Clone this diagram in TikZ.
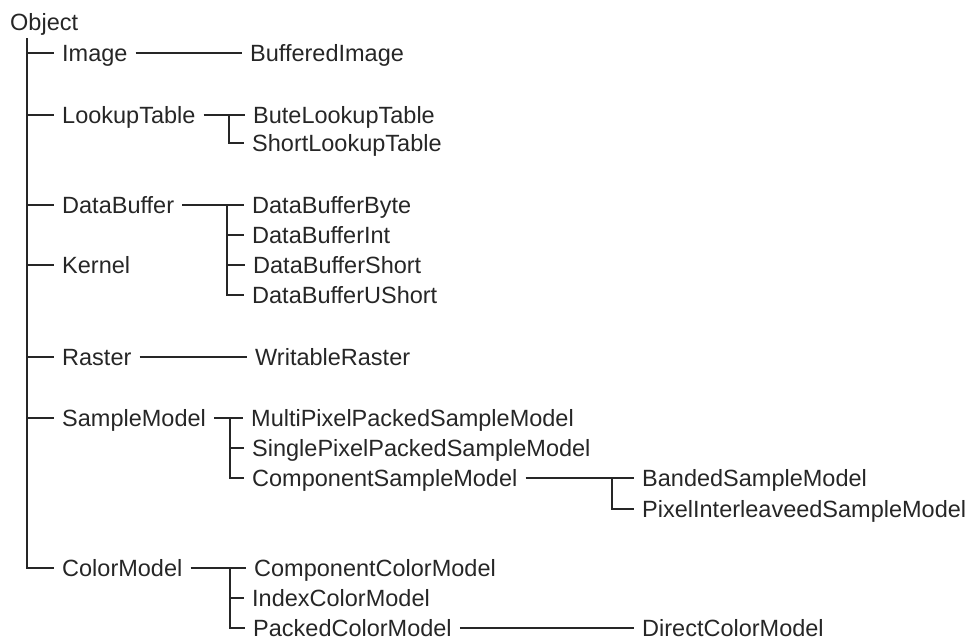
\documentclass[tikz,border=0pt]{standalone}
\usepackage{fontspec}
\setmainfont{Liberation Sans}
\usepackage{tikz}

\begin{document}
\begin{tikzpicture}[x=1pt,y=-1pt,
  font=\fontsize{23.5}{28}\selectfont,
  cls/.style={anchor=west,inner xsep=8pt,inner ysep=0pt,text height=17pt,text depth=0pt,text=black!85},
  conn/.style={black!85,line width=1.6pt}]

  \useasboundingbox (0,2) rectangle (975,643);

  \node[cls] (obj) at (2,24) {Object};

  % first level
  \node[cls] (image)       at (54,55)  {Image};
  \node[cls] (lookup)      at (54,117) {LookupTable};
  \node[cls] (databuffer)  at (54,207) {DataBuffer};
  \node[cls] (kernel)      at (54,267) {Kernel};
  \node[cls] (raster)      at (54,359) {Raster};
  \node[cls] (samplemodel) at (54,420) {SampleModel};
  \node[cls] (colormodel)  at (54,570) {ColorModel};

  % second level
  \node[cls] (bufimage) at (242,55)  {BufferedImage};
  \node[cls] (bute)     at (245,117) {ButeLookupTable};
  \node[cls] (shortlut) at (244,145) {ShortLookupTable};
  \node[cls] (dbbyte)   at (244,207) {DataBufferByte};
  \node[cls] (dbint)    at (244,237) {DataBufferInt};
  \node[cls] (dbshort)  at (245,267) {DataBufferShort};
  \node[cls] (dbushort) at (244,297) {DataBufferUShort};
  \node[cls] (writable) at (247,359) {WritableRaster};
  \node[cls] (multi)    at (243,420) {MultiPixelPackedSampleModel};
  \node[cls] (single)   at (244,450) {SinglePixelPackedSampleModel};
  \node[cls] (compsm)   at (244,480) {ComponentSampleModel};
  \node[cls] (compcm)   at (246,570) {ComponentColorModel};
  \node[cls] (index)    at (244,600) {IndexColorModel};
  \node[cls] (packed)   at (245,630) {PackedColorModel};

  % third level
  \node[cls] (banded) at (634,480) {BandedSampleModel};
  \node[cls] (pixint) at (634,511) {PixelInterleaveedSampleModel};
  \node[cls] (direct) at (634,630) {DirectColorModel};

  \coordinate (trunk) at (27,40);
  \coordinate (lj) at (229,0);
  \coordinate (dj) at (227,0);
  \coordinate (sj) at (230,0);
  \coordinate (cj) at (230,0);
  \coordinate (pj) at (612,0);

  % trunk
  \draw[conn] (trunk) |- (colormodel.west);
  \foreach \c in {image,lookup,databuffer,kernel,raster,samplemodel}
    \draw[conn] (trunk |- \c.west) -- (\c.west);

  \draw[conn] (image.east) -- (bufimage.west);
  \draw[conn] (raster.east) -- (writable.west);

  \draw[conn] (lookup.east) -- (bute.west);
  \draw[conn] (lj |- bute.west) |- (shortlut.west);

  \draw[conn] (databuffer.east) -- (dbbyte.west);
  \draw[conn] (dj |- dbbyte.west) |- (dbushort.west);
  \foreach \c in {dbint,dbshort}
    \draw[conn] (dj |- \c.west) -- (\c.west);

  \draw[conn] (samplemodel.east) -- (multi.west);
  \draw[conn] (sj |- multi.west) |- (compsm.west);
  \draw[conn] (sj |- single.west) -- (single.west);

  \draw[conn] (compsm.east) -- (banded.west);
  \draw[conn] (pj |- banded.west) |- (pixint.west);

  \draw[conn] (colormodel.east) -- (compcm.west);
  \draw[conn] (cj |- compcm.west) |- (packed.west);
  \draw[conn] (cj |- index.west) -- (index.west);

  \draw[conn] (packed.east) -- (direct.west);
\end{tikzpicture}
\end{document}
